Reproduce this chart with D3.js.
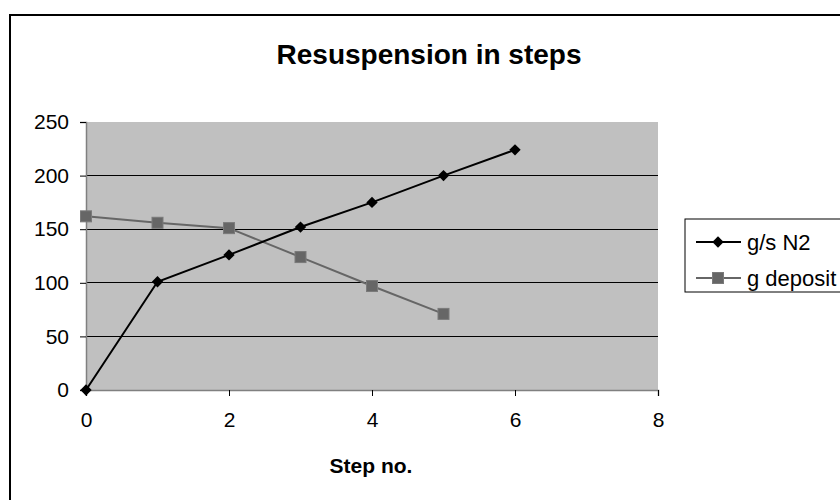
<!DOCTYPE html>
<html><head><meta charset="utf-8">
<script src="https://cdn.jsdelivr.net/npm/d3@7"></script>
<style>body{margin:0;background:#fff}svg{display:block;font-family:"Liberation Sans",Arial,sans-serif}</style>
</head><body><svg id="c" width="840" height="500"></svg>
<script>
const steps = [0,1,2,3,4,5,6];
const gsN2 = [0,101,126,152,175,200,224];
const depositSteps = [0,1,2,3,4,5];
const gDeposit = [162,156,151,124,97,71];
const xTicks = [0,2,4,6,8];
const yTicks = [0,50,100,150,200,250];
const seriesNames = ["g/s N2","g deposit"];

const svg = d3.select("#c");
svg.append("rect").attr("x",10).attr("y",15).attr("width",840).attr("height",500)
  .attr("fill","#fff").attr("stroke","#000").attr("stroke-width",2);

const x = d3.scaleLinear().domain([0,8]).range([86,658]);
const y = d3.scaleLinear().domain([0,250]).range([390,122]);

svg.append("rect").attr("x",x(0)).attr("y",y(250)).attr("width",x(8)-x(0)).attr("height",y(0)-y(250))
  .attr("fill","#c0c0c0");

svg.append("g").selectAll("line").data(yTicks.filter(d=>d>0 && d<250)).join("line")
  .attr("x1",x(0)).attr("x2",x(8)).attr("y1",d=>y(d)).attr("y2",d=>y(d))
  .attr("stroke","#000").attr("stroke-width",1).attr("shape-rendering","crispEdges");

const yAxis = svg.append("g").attr("transform",`translate(${x(0)},0)`)
  .call(d3.axisLeft(y).tickValues(yTicks).tickSize(6).tickPadding(11));
const xAxis = svg.append("g").attr("transform",`translate(0,${y(0)})`)
  .call(d3.axisBottom(x).tickValues(xTicks).tickSize(6).tickPadding(16));
[yAxis,xAxis].forEach(a=>{
  a.select(".domain").attr("stroke","#808080").attr("stroke-width",1.5);
  a.selectAll(".tick line").attr("stroke","#000");
  a.selectAll("text").attr("font-size",21).attr("fill","#000").attr("font-family","Liberation Sans, Arial, sans-serif");
});

const line = d3.line().x(d=>x(d[0])).y(d=>y(d[1]));
const d1 = steps.map((s,i)=>[s,gsN2[i]]);
const d2 = depositSteps.map((s,i)=>[s,gDeposit[i]]);

svg.append("path").datum(d2).attr("d",line).attr("fill","none").attr("stroke","#666").attr("stroke-width",2);
svg.append("g").selectAll("rect").data(d2).join("rect")
  .attr("x",d=>x(d[0])-5.5).attr("y",d=>y(d[1])-5.5).attr("width",11).attr("height",11)
  .attr("fill","#666").attr("stroke","#7a7a7a").attr("stroke-width",1);

svg.append("path").datum(d1).attr("d",line).attr("fill","none").attr("stroke","#000").attr("stroke-width",2);
svg.append("g").selectAll("path").data(d1).join("path")
  .attr("transform",d=>`translate(${x(d[0])},${y(d[1])}) rotate(45)`)
  .attr("d",d3.symbol().type(d3.symbolSquare).size(64)).attr("fill","#000");

svg.append("text").attr("x",429).attr("y",64).attr("text-anchor","middle")
  .attr("font-size",28).attr("font-weight","bold").text("Resuspension in steps");
svg.append("text").attr("x",371).attr("y",473).attr("text-anchor","middle")
  .attr("font-size",21).attr("font-weight","bold").text("Step no.");

// legend
const lg = svg.append("g");
lg.append("rect").attr("x",685).attr("y",219).attr("width",200).attr("height",73)
  .attr("fill","#fff").attr("stroke","#000").attr("stroke-width",1);
const ly = [242,278];
lg.append("line").attr("x1",696).attr("x2",741).attr("y1",ly[0]).attr("y2",ly[0]).attr("stroke","#000").attr("stroke-width",2);
lg.append("path").attr("transform",`translate(718,${ly[0]}) rotate(45)`).attr("d",d3.symbol().type(d3.symbolSquare).size(64)).attr("fill","#000");
lg.append("line").attr("x1",696).attr("x2",741).attr("y1",ly[1]).attr("y2",ly[1]).attr("stroke","#666").attr("stroke-width",2);
lg.append("rect").attr("x",712.5).attr("y",ly[1]-5.5).attr("width",11).attr("height",11).attr("fill","#666").attr("stroke","#7a7a7a");
lg.selectAll("text.l").data(seriesNames).join("text").attr("class","l")
  .attr("x",747).attr("y",(d,i)=>ly[i]).attr("dy","0.35em").attr("font-size",22).text(d=>d);
</script></body></html>
